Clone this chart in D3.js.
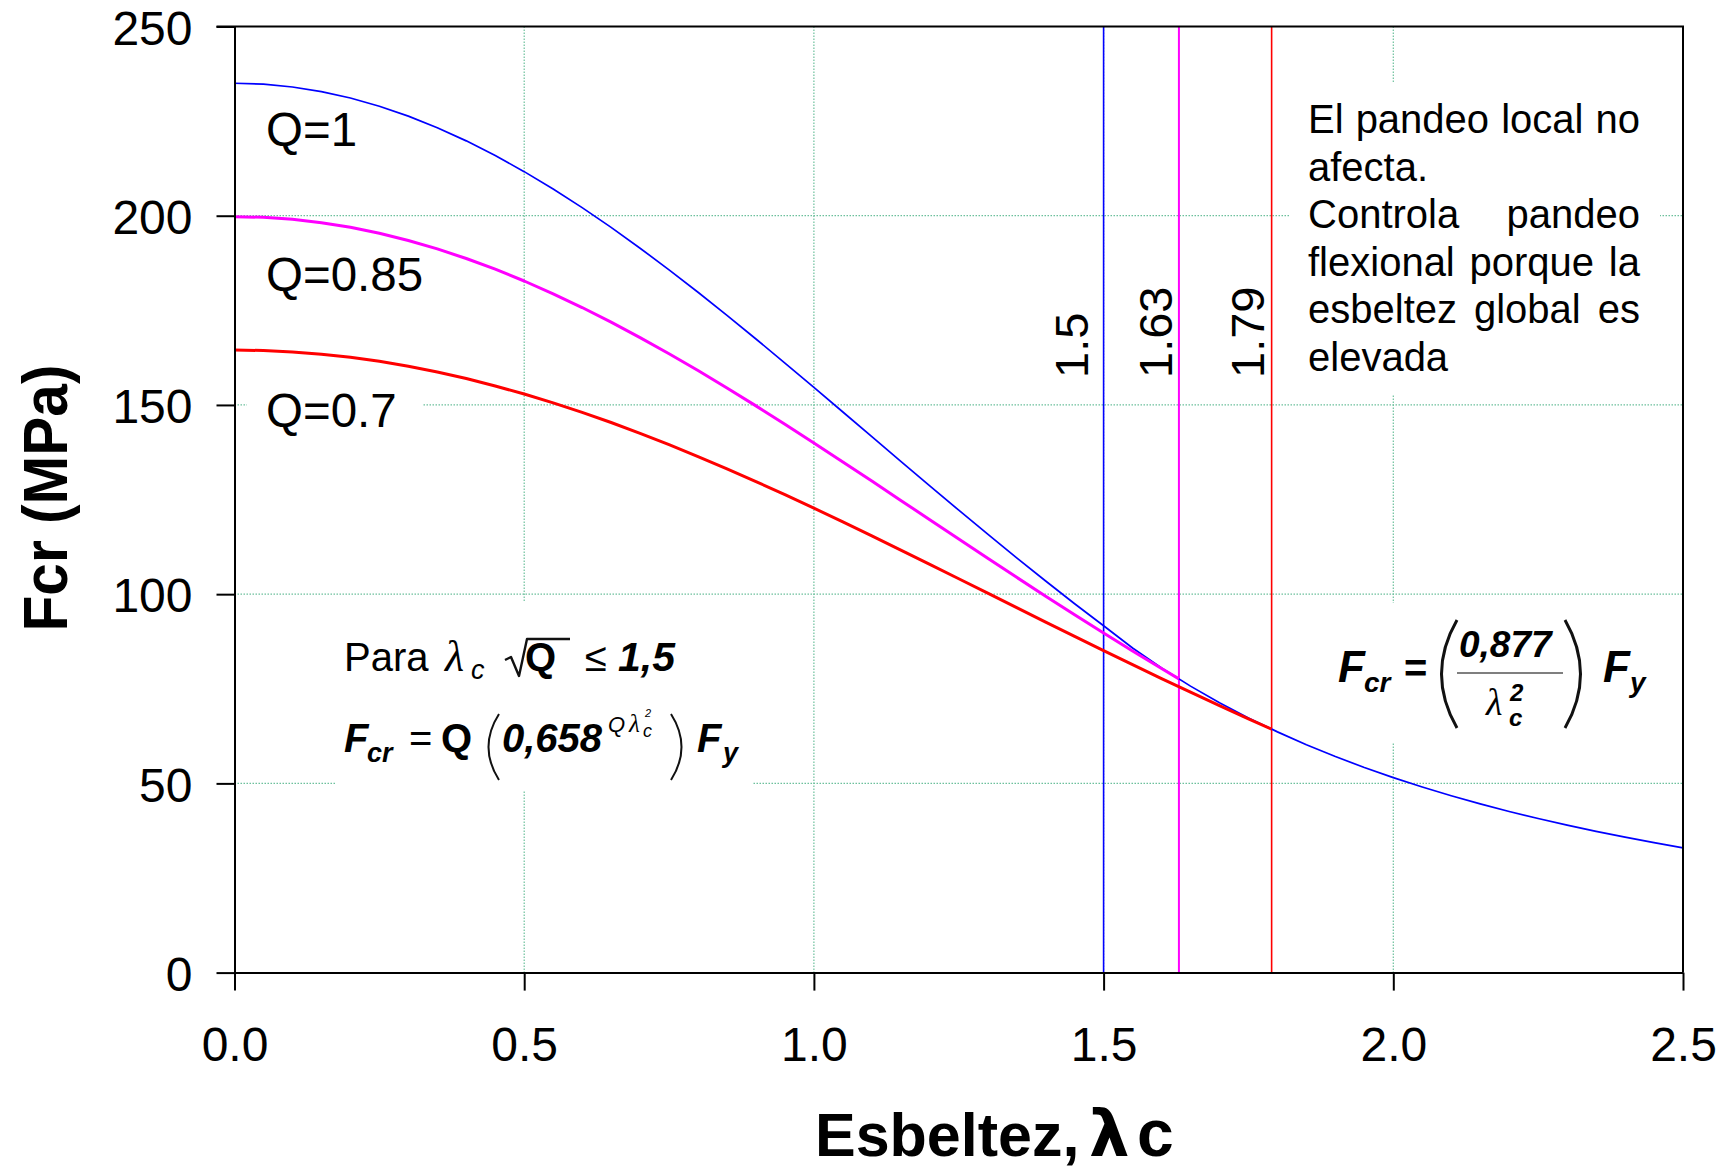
<!DOCTYPE html>
<html>
<head>
<meta charset="utf-8">
<script src="https://cdn.jsdelivr.net/npm/d3@7"></script>
<style>
  html, body { margin: 0; padding: 0; background: #fff; }
  svg { display: block; }
  text { font-family: "Liberation Sans", Arial, sans-serif; fill: #000; }
</style>
</head>
<body>
<svg id="chart" width="1733" height="1172"></svg>
<script>
// Slenderness λc (step 0.05) and critical stress Fcr (MPa) for Fy = 235 MPa
const lambdaQ100 = [0, 0.05, 0.1, 0.15, 0.2, 0.25, 0.3, 0.35, 0.4, 0.45, 0.5, 0.55, 0.6, 0.65, 0.7, 0.75, 0.8, 0.85, 0.9, 0.95,
  1.0, 1.05, 1.1, 1.15, 1.2, 1.25, 1.3, 1.35, 1.4, 1.45, 1.5, 1.55, 1.6, 1.65, 1.7, 1.75, 1.8, 1.85, 1.9, 1.95,
  2.0, 2.05, 2.1, 2.15, 2.2, 2.25, 2.3, 2.35, 2.4, 2.45, 2.5];
const fcrQ100 = [235.00, 234.75, 234.02, 232.80, 231.10, 228.93, 226.31, 223.25, 219.78, 215.90, 211.65, 207.05, 202.13, 196.91,
  191.42, 185.70, 179.78, 173.68, 167.43, 161.07, 154.63, 148.14, 141.62, 135.11, 128.62, 122.19, 115.84, 109.60, 103.47,
  97.47, 91.64, 85.78, 80.51, 75.70, 71.31, 67.30, 63.61, 60.22, 57.09, 54.20, 51.52, 49.04, 46.73, 44.59, 42.58, 40.71,
  38.96, 37.32, 35.78, 34.33, 32.98];

const lambdaQ085 = [0, 0.05, 0.1, 0.15, 0.2, 0.25, 0.3, 0.35, 0.4, 0.45, 0.5, 0.55, 0.6, 0.65, 0.7, 0.75, 0.8, 0.85, 0.9, 0.95,
  1.0, 1.05, 1.1, 1.15, 1.2, 1.25, 1.3, 1.35, 1.4, 1.45, 1.5, 1.55, 1.6, 1.63];
const fcrQ085 = [199.75, 199.57, 199.04, 198.16, 196.93, 195.36, 193.46, 191.23, 188.70, 185.87, 182.75, 179.37, 175.74, 171.87,
  167.80, 163.53, 159.08, 154.48, 149.75, 144.90, 139.95, 134.94, 129.88, 124.78, 119.67, 114.57, 109.49, 104.45, 99.46,
  94.54, 89.71, 84.97, 80.34, 77.62];

const lambdaQ070 = [0, 0.05, 0.1, 0.15, 0.2, 0.25, 0.3, 0.35, 0.4, 0.45, 0.5, 0.55, 0.6, 0.65, 0.7, 0.75, 0.8, 0.85, 0.9, 0.95,
  1.0, 1.05, 1.1, 1.15, 1.2, 1.25, 1.3, 1.35, 1.4, 1.45, 1.5, 1.55, 1.6, 1.65, 1.7, 1.75, 1.79];
const fcrQ070 = [164.50, 164.38, 164.02, 163.42, 162.58, 161.52, 160.22, 158.70, 156.97, 155.02, 152.88, 150.55, 148.03, 145.35,
  142.50, 139.51, 136.37, 133.12, 129.75, 126.28, 122.72, 119.09, 115.40, 111.66, 107.88, 104.08, 100.26, 96.44, 92.63,
  88.85, 85.09, 81.37, 77.70, 74.09, 70.54, 67.06, 64.34];

const seriesNames = ["Q=1", "Q=0.85", "Q=0.7"];
const seriesColors = ["#0000ff", "#ff00ff", "#ff0000"];

// Limit slenderness λc = 1.5/√Q for each Q
const limitValues = [1.5, 1.63, 1.79];
const limitLabels = ["1.5", "1.63", "1.79"];

const xTicks = [0, 0.5, 1.0, 1.5, 2.0, 2.5];
const xTickLabels = ["0.0", "0.5", "1.0", "1.5", "2.0", "2.5"];
const yTicks = [0, 50, 100, 150, 200, 250];

const noteLines = ["El pandeo local no", "afecta.", "Controla pandeo", "flexional porque la", "esbeltez global es", "elevada"];
const noteJustified = [true, false, true, true, true, false];

// ---------------------------------------------------------------------------
const svg = d3.select("#chart");
const plot = { left: 234.5, right: 1683, top: 26.5, bottom: 972.6 };

const x = d3.scaleLinear().domain([0, 2.5]).range([plot.left, plot.right]);
const y = d3.scaleLinear().domain([0, 250]).range([plot.bottom, plot.top]);

const series = [
  { name: seriesNames[0], color: seriesColors[0], width: 1.7, pts: lambdaQ100.map((l, i) => [l, fcrQ100[i]]) },
  { name: seriesNames[1], color: seriesColors[1], width: 3.0, pts: lambdaQ085.map((l, i) => [l, fcrQ085[i]]) },
  { name: seriesNames[2], color: seriesColors[2], width: 3.0, pts: lambdaQ070.map((l, i) => [l, fcrQ070[i]]) }
];

// Dotted gridlines
const grid = svg.append("g").attr("class", "grid")
  .attr("stroke", "#6cc09c").attr("stroke-width", 1.2).attr("stroke-dasharray", "1.5,1.5");
grid.selectAll("line.gx").data(xTicks.filter(t => t > 0 && t < 2.5)).join("line")
  .attr("x1", d => x(d)).attr("x2", d => x(d)).attr("y1", y(250)).attr("y2", y(0));
grid.selectAll("line.gy").data(yTicks.filter(t => t > 0 && t < 250)).join("line")
  .attr("y1", d => y(d)).attr("y2", d => y(d)).attr("x1", x(0)).attr("x2", x(2.5));

// White backgrounds of the text boxes (they cover the gridlines)
const boxes = svg.append("g").attr("fill", "#fff");
boxes.append("rect").attr("x", 1290).attr("y", 83).attr("width", 370).attr("height", 312);   // note
boxes.append("rect").attr("x", 335).attr("y", 602).attr("width", 417).attr("height", 188);   // inelastic formula
boxes.append("rect").attr("x", 1326).attr("y", 603).attr("width", 332).attr("height", 140);  // elastic formula
const qBoxes = boxes.append("g");

// Vertical limit lines
svg.append("g").selectAll("line").data(limitValues).join("line")
  .attr("x1", d => x(d)).attr("x2", d => x(d))
  .attr("y1", y(250)).attr("y2", y(0))
  .attr("stroke", (d, i) => seriesColors[i])
  .attr("stroke-width", (d, i) => i === 1 ? 2 : 1.6);

// Curves
const line = d3.line().x(d => x(d[0])).y(d => y(d[1])).curve(d3.curveLinear);
svg.append("g").selectAll("path").data(series).join("path")
  .attr("d", d => line(d.pts))
  .attr("fill", "none")
  .attr("stroke", d => d.color)
  .attr("stroke-width", d => d.width)
  .attr("stroke-linejoin", "round");

// Axes
const yAxis = d3.axisLeft(y).tickValues(yTicks).tickSize(18).tickSizeOuter(0).tickFormat(d3.format("d"));
const xAxis = d3.axisBottom(x).tickValues(xTicks).tickSize(18).tickSizeOuter(0).tickFormat((d, i) => xTickLabels[i]);

const gy = svg.append("g").attr("transform", `translate(${plot.left},0)`).call(yAxis);
const gx = svg.append("g").attr("transform", `translate(0,${plot.bottom})`).call(xAxis);
[gx, gy].forEach(g => {
  g.attr("font-family", null).attr("font-size", null);
  g.selectAll(".domain").attr("stroke", "#000").attr("stroke-width", 2);
  g.selectAll(".tick line").attr("stroke", "#000").attr("stroke-width", 2);
  g.selectAll(".tick text").style("font-size", "48px").attr("fill", "#000");
});
gy.selectAll(".tick text").attr("x", -42).attr("dy", "0.37em");
gx.selectAll(".tick text").attr("y", 88).attr("dy", 0);

// Top and right frame
svg.append("path")
  .attr("d", `M${x(0) - 18},${y(250)}H${x(2.5)}V${y(0)}`)
  .attr("fill", "none").attr("stroke", "#000").attr("stroke-width", 2);

// Series labels
const qLabelPos = [[266, 146], [266, 291], [266, 427]];
series.forEach((s, i) => {
  const t = svg.append("text").attr("x", qLabelPos[i][0]).attr("y", qLabelPos[i][1])
    .style("font-size", "47.5px").text(s.name);
  const bb = t.node().getBBox();
  qBoxes.append("rect").attr("x", bb.x - 19).attr("y", bb.y - 4)
    .attr("width", bb.width + 45).attr("height", bb.height + 8);
});

// Limit labels (rotated)
const limitLabelShift = [16, 7, 8];
svg.append("g").selectAll("text").data(limitValues).join("text")
  .attr("transform", (d, i) => `translate(${x(d) - limitLabelShift[i]},378) rotate(-90)`)
  .style("font-size", "47px")
  .text((d, i) => limitLabels[i]);

// Note, justified paragraph
const note = svg.append("g").style("font-size", "40px");
const noteLeft = 1308, noteRight = 1640, noteTop = 133, noteStep = 47.6;
noteLines.forEach((ln, i) => {
  const words = ln.split(" ");
  const yy = noteTop + i * noteStep;
  if (!noteJustified[i]) {
    note.append("text").attr("x", noteLeft).attr("y", yy).text(ln);
    return;
  }
  const nodes = words.map(w => note.append("text").attr("y", yy).text(w));
  const widths = nodes.map(n => n.node().getComputedTextLength());
  const gap = (noteRight - noteLeft - d3.sum(widths)) / (words.length - 1);
  let cx = noteLeft;
  nodes.forEach((n, k) => { n.attr("x", cx); cx += widths[k] + gap; });
});

// Axis titles
svg.append("text")
  .attr("transform", "translate(67,498) rotate(-90) scale(0.93,1)")
  .attr("text-anchor", "middle")
  .style("font-size", "63px").style("font-weight", "bold")
  .text("Fcr (MPa)");

const serif = "'Liberation Serif', 'DejaVu Serif', serif";
const xt = svg.append("text").attr("y", 1156)
  .style("font-size", "61px").style("font-weight", "bold");
xt.append("tspan").attr("x", 815).text("Esbeltez,");
xt.append("tspan").attr("x", 1089).style("font-family", "'DejaVu Sans', sans-serif").style("font-size", "64px").text("λ");
xt.append("tspan").attr("x", 1137).style("font-size", "66px").text("c");

// Inelastic buckling formula
const f1 = svg.append("g").attr("transform", "translate(345,671)").style("fill", "#111");
function txt(g, x0, y0, s, size, opts = {}) {
  return g.append("text").attr("x", x0).attr("y", y0)
    .style("font-size", size + "px")
    .style("font-weight", opts.bold ? "bold" : "normal")
    .style("font-style", opts.italic ? "italic" : "normal")
    .style("font-family", opts.serif ? serif : null)
    .text(s);
}
txt(f1, -1, 0, "Para", 40);
txt(f1, 100, 0, "λ", 44, { italic: true, serif: true });
txt(f1, 126, 8, "c", 27, { italic: true });
f1.append("path").attr("d", "M160,-11 L166,-14 L174,5 L182,-32 L225,-32")
  .attr("fill", "none").attr("stroke", "#111").attr("stroke-width", 2.4).attr("stroke-linejoin", "round");
txt(f1, 180, 0, "Q", 40, { bold: true });
txt(f1, 240, 0, "≤", 40);
txt(f1, 273, 0, "1,5", 41, { bold: true, italic: true });

const l2 = 81;
txt(f1, -1, l2, "F", 40, { bold: true, italic: true });
txt(f1, 22, l2 + 10, "cr", 27, { bold: true, italic: true });
txt(f1, 64, l2, "=", 40);
txt(f1, 96, l2, "Q", 40, { bold: true });
f1.append("path").attr("d", "M154,43 Q133,76 154,109").attr("fill", "none").attr("stroke", "#111").attr("stroke-width", 2);
txt(f1, 157, l2, "0,658", 40, { bold: true, italic: true });
txt(f1, 263, l2 - 20, "Q", 22, { italic: true });
txt(f1, 284, l2 - 20, "λ", 25, { italic: true, serif: true });
txt(f1, 298, l2 - 15, "c", 18, { italic: true });
txt(f1, 300, l2 - 35, "2", 11, { italic: true });
f1.append("path").attr("d", "M326,43 Q347,76 326,109").attr("fill", "none").attr("stroke", "#111").attr("stroke-width", 2);
txt(f1, 352, l2, "F", 40, { bold: true, italic: true });
txt(f1, 378, l2 + 10, "y", 27, { bold: true, italic: true });

// Elastic (Euler) buckling formula
const f2 = svg.append("g").attr("transform", "translate(1338,682)").style("fill", "#111");
txt(f2, 0, 0, "F", 44, { bold: true, italic: true });
txt(f2, 26, 10, "cr", 28, { bold: true, italic: true });
txt(f2, 66, 0, "=", 40, { bold: true });
f2.append("path").attr("d", "M119,-62 Q88,-8 119,46").attr("fill", "none").attr("stroke", "#111").attr("stroke-width", 3);
txt(f2, 121, -25, "0,877", 37, { bold: true, italic: true });
f2.append("line").attr("x1", 119).attr("x2", 225).attr("y1", -9).attr("y2", -9).attr("stroke", "#555").attr("stroke-width", 1.6);
txt(f2, 148, 33, "λ", 38, { italic: true, serif: true });
txt(f2, 172, 19, "2", 24, { bold: true, italic: true });
txt(f2, 171, 44, "c", 24, { bold: true, italic: true });
f2.append("path").attr("d", "M227,-62 Q258,-8 227,46").attr("fill", "none").attr("stroke", "#111").attr("stroke-width", 3);
txt(f2, 265, 0, "F", 44, { bold: true, italic: true });
txt(f2, 292, 10, "y", 28, { bold: true, italic: true });
</script>
</body>
</html>
